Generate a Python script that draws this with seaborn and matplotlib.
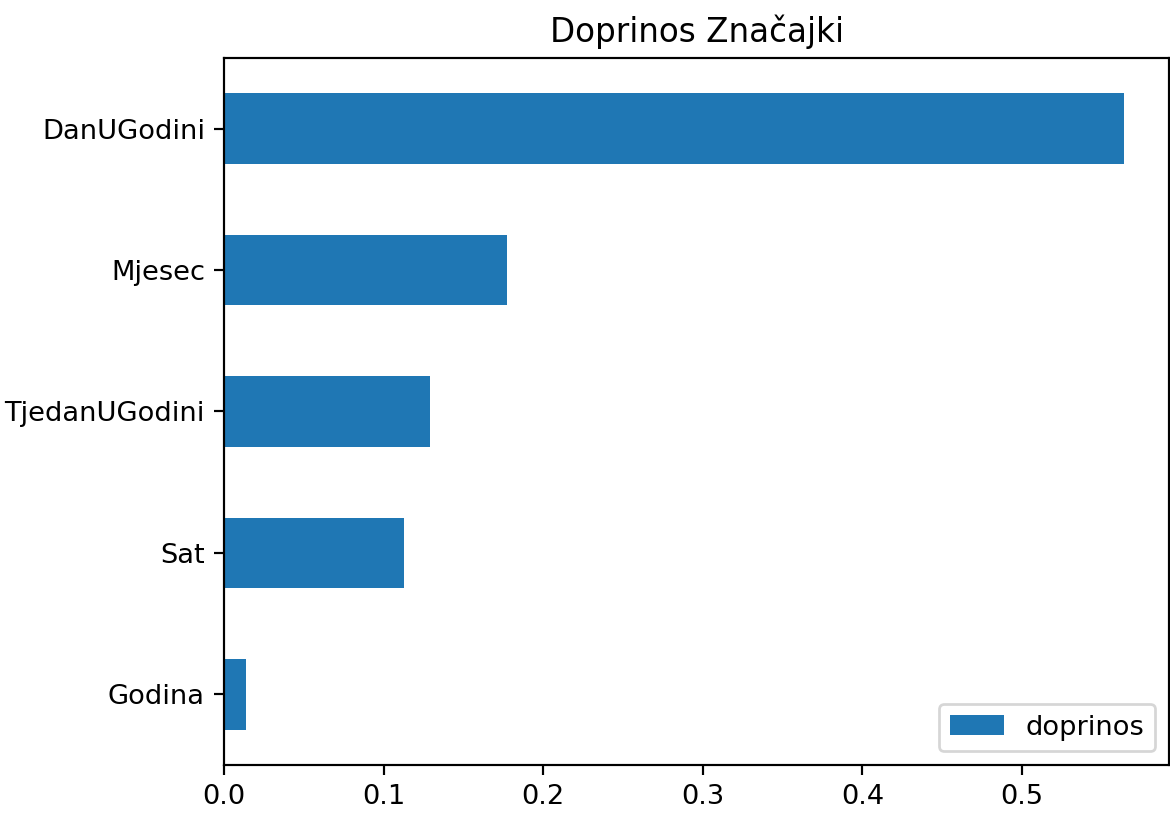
import matplotlib
matplotlib.use("Agg")
import matplotlib.pyplot as plt
import seaborn as sns
import pandas as pd

# feature importance values
features = ['DanUGodini', 'Mjesec', 'TjedanUGodini', 'Sat', 'Godina']
doprinos = [0.564, 0.1775, 0.129, 0.113, 0.014]

DPI = 196
fig = plt.figure(figsize=(1170 / DPI, 813 / DPI), dpi=DPI)
ax = fig.add_axes([0.1915, 0.059, 0.8077, 0.8697])

df = pd.DataFrame({'feature': features, 'doprinos': doprinos})
sns.barplot(data=df, x='doprinos', y='feature', order=features, orient='h',
            color='#1f77b4', saturation=1, width=0.5, label='doprinos', ax=ax)

ax.set_xlabel('')
ax.set_ylabel('')
ax.set_title('Doprinos Značajki')
ax.legend(loc='lower right')

fig.savefig('out.png', dpi=DPI)
